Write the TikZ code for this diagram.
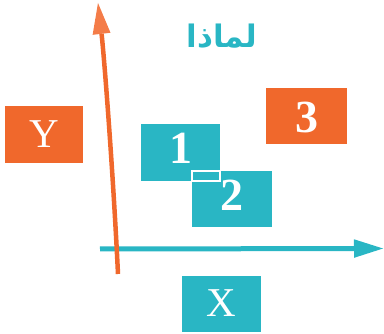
\documentclass[tikz,border=0pt]{standalone}
\usepackage{fontspec}
\setmainfont{Liberation Serif}
\newfontfamily\arabicfont[Script=Arabic]{DejaVu Sans}
\TeXXeTstate=1
\usetikzlibrary{arrows.meta}
\definecolor{tealc}{RGB}{41,182,196}
\definecolor{orangec}{RGB}{240,104,44}
\definecolor{orangetip}{RGB}{244,124,72}
\tikzset{
  box/.style={inner sep=0pt, text=white, minimum width=#1},
  tealbox/.style={box=79pt, fill=tealc, minimum height=56pt},
  orangebox/.style={box=79pt, fill=orangec, minimum height=56pt},
  letter/.style={font=\fontsize{41}{41}\selectfont},
  digit/.style={font=\fontsize{46}{46}\selectfont\bfseries},
}
\begin{document}
\begin{tikzpicture}[x=1pt,y=-1pt]
\useasboundingbox (0,0) rectangle (384,334);
% boxes
\node[orangebox, minimum width=78pt, minimum height=57pt] (Y) at (44,134.5) {};
\node[letter, text=white] (Yt) at (44,134.5) {Y};
\node[orangebox, minimum width=81pt] (B3) at (306.5,116) {};
\node[digit, text=white] (t3) at (306.5,117) {3};
\node[tealbox, minimum height=57pt] (B1) at (180.5,152.5) {};
\node[digit, text=white] (t1) at (180.5,148) {1};
\node[tealbox, minimum width=80pt] (B2) at (232,199) {};
\node[digit, text=white] (t2) at (232,195) {2};
\draw[white, line width=1.5pt] (B2.north west) rectangle (B1.south east);
\node[tealbox] (BX) at (221.5,304) {};
\node[letter, text=white] (Xt) at (221.5,303) {X};
% arabic title
\node[text=tealc, font=\arabicfont\fontsize{31}{31}\selectfont\bfseries] (ttl) at (222,36) {\beginR لماذا\endR};
% axes
\coordinate (xs) at (100,249);
\coordinate (xe) at (384,248.5);
\draw[tealc, line width=5pt, -{Triangle[length=30pt,width=17pt]}] (xs) -- (xe);
\coordinate (ys) at (118,274);
\coordinate (ye) at (98,3);
\draw[orangec, line width=4.5pt, -{Triangle[length=31pt,width=18pt,color=orangetip,fill=orangetip,line width=0pt]}] (ys) .. controls (113,170) and (104,55) .. (ye);
\end{tikzpicture}
\end{document}
